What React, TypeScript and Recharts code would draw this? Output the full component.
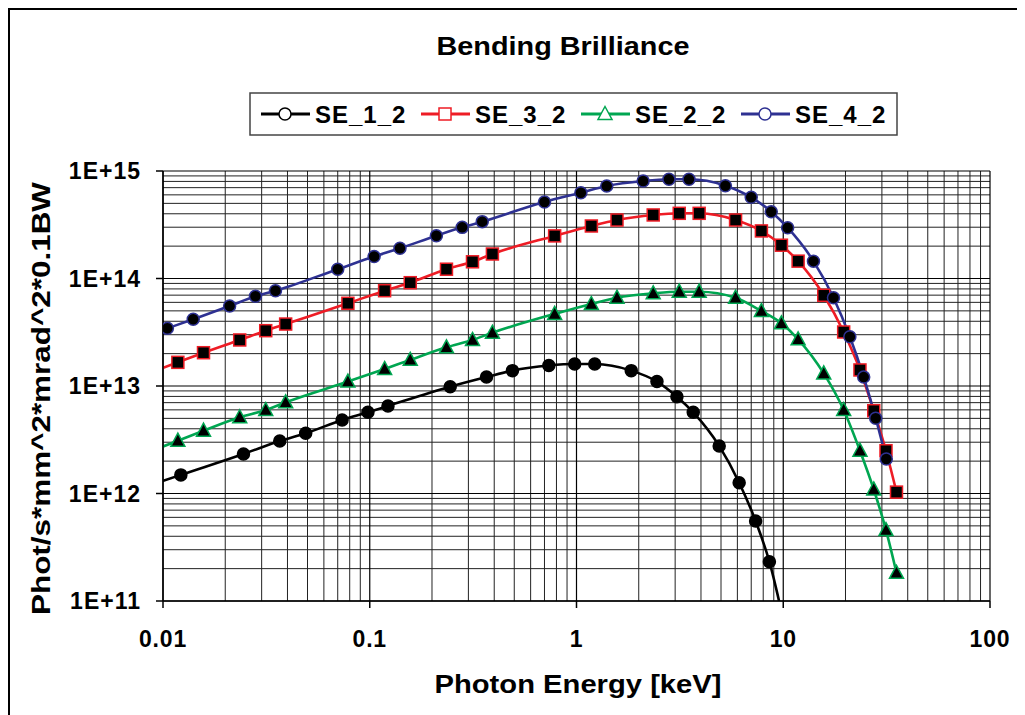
import React from 'react';
import { LineChart, Line, XAxis, YAxis, CartesianGrid } from 'recharts';

// ---- data ----
const E1 = [0.00612, 0.0122, 0.0245, 0.0367, 0.049, 0.0735, 0.098, 0.1225, 0.245, 0.367, 0.49, 0.735, 0.98, 1.225, 1.84, 2.45, 3.06, 3.67, 4.9, 6.12, 7.35, 8.57, 9.8];
const B1 = [9.5e11, 1.49e12, 2.33e12, 3.08e12, 3.63e12, 4.83e12, 5.69e12, 6.52e12, 9.85e12, 1.21e13, 1.39e13, 1.55e13, 1.6e13, 1.6e13, 1.39e13, 1.1e13, 7.95e12, 5.69e12, 2.77e12, 1.26e12, 5.55e11, 2.32e11, 8e10];

const E3 = [0.00784, 0.0118, 0.0157, 0.0235, 0.0314, 0.0392, 0.0784, 0.118, 0.157, 0.235, 0.314, 0.392, 0.784, 1.18, 1.57, 2.35, 3.14, 3.92, 5.88, 7.84, 9.8, 11.8, 15.7, 19.6, 23.5, 27.4, 31.4, 35.3];
const B3 = [1.24e13, 1.66e13, 2.04e13, 2.68e13, 3.27e13, 3.77e13, 5.88e13, 7.7e13, 9.14e13, 1.22e14, 1.43e14, 1.69e14, 2.49e14, 3.08e14, 3.5e14, 3.9e14, 4.04e14, 4.04e14, 3.5e14, 2.77e14, 2.04e14, 1.45e14, 6.98e13, 3.18e13, 1.41e13, 5.89e12, 2.5e12, 1.03e12];

const E2 = [0.00784, 0.0118, 0.0157, 0.0235, 0.0314, 0.0392, 0.0784, 0.118, 0.157, 0.235, 0.314, 0.392, 0.784, 1.18, 1.57, 2.35, 3.14, 3.92, 5.88, 7.84, 9.8, 11.8, 15.7, 19.6, 23.5, 27.4, 31.4, 35.3];
const B2 = [2.28e12, 3.1e12, 3.84e12, 5.12e12, 5.98e12, 7.05e12, 1.1e13, 1.44e13, 1.75e13, 2.29e13, 2.68e13, 3.13e13, 4.68e13, 5.79e13, 6.63e13, 7.28e13, 7.54e13, 7.54e13, 6.63e13, 4.98e13, 3.83e13, 2.72e13, 1.31e13, 5.98e12, 2.5e12, 1.09e12, 4.57e11, 1.83e11];

const E4 = [0.007, 0.0105, 0.014, 0.021, 0.028, 0.035, 0.07, 0.105, 0.14, 0.21, 0.28, 0.35, 0.7, 1.05, 1.4, 2.1, 2.8, 3.5, 5.25, 7, 8.75, 10.5, 14, 17.5, 21, 24.5, 28, 31.5];
const B4 = [2.63e13, 3.44e13, 4.17e13, 5.55e13, 6.83e13, 7.7e13, 1.22e14, 1.6e14, 1.91e14, 2.5e14, 2.99e14, 3.38e14, 5.15e14, 6.28e14, 7.25e14, 8.07e14, 8.37e14, 8.37e14, 7.3e14, 5.69e14, 4.18e14, 2.97e14, 1.45e14, 6.63e13, 2.87e13, 1.21e13, 5.01e12, 2.09e12];

const X_TICKS = [0.01, 0.1, 1, 10, 100];
const Y_TICKS = [1e11, 1e12, 1e13, 1e14, 1e15];
const MINOR_MULT = [2, 3, 4, 5, 6, 7, 8, 9];

const TITLE = 'Bending Brilliance';
const X_LABEL = 'Photon Energy [keV]';
const Y_LABEL = 'Phot/s*mm^2*mrad^2*0.1BW';

type Shape = 'circle' | 'square' | 'triangle';
const SERIES: { name: string; color: string; shape: Shape; E: number[]; B: number[] }[] = [
  { name: 'SE_1_2', color: '#000000', shape: 'circle', E: E1, B: B1 },
  { name: 'SE_3_2', color: '#EE1C25', shape: 'square', E: E3, B: B3 },
  { name: 'SE_2_2', color: '#00A651', shape: 'triangle', E: E2, B: B2 },
  { name: 'SE_4_2', color: '#2E3192', shape: 'circle', E: E4, B: B4 },
];

const minorX: number[] = [];
X_TICKS.slice(0, -1).forEach((d) => MINOR_MULT.forEach((k) => minorX.push(k * d)));
const minorY: number[] = [];
Y_TICKS.slice(0, -1).forEach((d) => MINOR_MULT.forEach((k) => minorY.push(k * d)));

const FONT = '"Liberation Sans", Arial, sans-serif';

function marker(shape: Shape, cx: number, cy: number, stroke: string, fill: string, key?: any) {
  if (shape === 'square') {
    return <rect key={key} x={cx - 6} y={cy - 6} width={12} height={12} fill={fill} stroke={stroke} strokeWidth={1.5} />;
  }
  if (shape === 'triangle') {
    return (
      <polygon
        key={key}
        points={`${cx},${cy - 7.5} ${cx + 7},${cy + 5.5} ${cx - 7},${cy + 5.5}`}
        fill={fill}
        stroke={stroke}
        strokeWidth={1.5}
      />
    );
  }
  return <circle key={key} cx={cx} cy={cy} r={6} fill={fill} stroke={stroke} strokeWidth={1.5} />;
}

const makeDot = (shape: Shape, color: string) => (p: any) => {
  const { cx, cy, index } = p;
  if (cx == null || cy == null || isNaN(cx) || isNaN(cy)) return <g key={`d${index}`} />;
  return marker(shape, cx, cy, color, '#000', `d${index}`);
};

const XTick = (p: any) => (
  <text x={p.x} y={p.y} dy="0.72em" textAnchor="middle" fontFamily={FONT} fontWeight={700} fontSize={23} fill="#000" letterSpacing={0.8}>
    {String(p.payload.value)}
  </text>
);

const YTick = (p: any) => (
  <text x={p.x} y={p.y} dy="0.36em" textAnchor="end" fontFamily={FONT} fontWeight={700} fontSize={23} fill="#000" letterSpacing={1}>
    {'1E+' + Math.round(Math.log10(p.payload.value))}
  </text>
);

export default function App() {
  const W = 1017;
  const H = 707;
  return (
    <div style={{ position: 'relative', width: W, height: H, fontFamily: FONT, background: '#fff' }}>
      <div
        style={{
          position: 'absolute',
          left: 0,
          top: 0,
          width: W,
          height: H,
          boxSizing: 'border-box',
          borderTop: '2px solid #000',
          borderLeft: '2px solid #000',
        }}
      />
      <div style={{ position: 'absolute', left: 0, top: 0 }}>
        <LineChart width={W} height={H} margin={{ top: 163, right: 35, bottom: 54, left: 95 }}>
          <CartesianGrid horizontalValues={minorY} verticalValues={minorX} stroke="#222" strokeWidth={1} />
          <CartesianGrid horizontalValues={Y_TICKS} verticalValues={X_TICKS} stroke="#000" strokeWidth={1.2} />
          <XAxis
            type="number"
            dataKey="x"
            scale="log"
            domain={[0.01, 100]}
            ticks={X_TICKS}
            allowDataOverflow
            height={60}
            tickSize={7}
            tickMargin={22}
            axisLine={{ stroke: '#000', strokeWidth: 1.5 }}
            tickLine={{ stroke: '#000', strokeWidth: 1.5 }}
            tick={<XTick />}
            interval={0}
          />
          <YAxis
            type="number"
            dataKey="y"
            scale="log"
            domain={[1e11, 1e15]}
            ticks={Y_TICKS}
            allowDataOverflow
            width={60}
            tickSize={7}
            tickMargin={15}
            axisLine={{ stroke: '#000', strokeWidth: 1.5 }}
            tickLine={{ stroke: '#000', strokeWidth: 1.5 }}
            tick={<YTick />}
            interval={0}
          />
          {SERIES.map((s) => (
            <Line
              key={s.name}
              name={s.name}
              data={s.E.map((e, i) => ({ x: e, y: s.B[i] }))}
              dataKey="y"
              type="monotone"
              stroke={s.color}
              strokeWidth={2.6}
              dot={makeDot(s.shape, s.color)}
              activeDot={false}
              isAnimationActive={false}
            />
          ))}
        </LineChart>
      </div>
      <svg width={W} height={H} style={{ position: 'absolute', left: 0, top: 0, pointerEvents: 'none' }}>
        <text x={555} y={47} textAnchor="middle" fontFamily={FONT} fontWeight={700} fontSize={26} textLength={253} lengthAdjust="spacingAndGlyphs" fill="#000">
          {TITLE}
        </text>
        <text x={570} y={685} textAnchor="middle" fontFamily={FONT} fontWeight={700} fontSize={26} textLength={287} lengthAdjust="spacingAndGlyphs" fill="#000">
          {X_LABEL}
        </text>
        <text
          transform="translate(42, 390.5) rotate(-90)"
          x={0}
          y={0}
          textAnchor="middle"
          fontFamily={FONT}
          fontWeight={700}
          fontSize={26}
          textLength={433}
          lengthAdjust="spacingAndGlyphs"
          fill="#000"
        >
          {Y_LABEL}
        </text>
        <g transform="translate(242, 85)">
          <rect x={0} y={0} width={647} height={42} fill="#fff" stroke="#444" strokeWidth={1.5} />
          {SERIES.map((s, i) => {
            const ox = 11 + i * 160;
            return (
              <g key={s.name}>
                <line x1={ox} y1={21} x2={ox + 49} y2={21} stroke={s.color} strokeWidth={2.8} />
                {marker(s.shape, ox + 24, 21, s.color, '#fff')}
                <text x={ox + 54} y={21} dy="0.36em" fontFamily={FONT} fontWeight={700} fontSize={24} fill="#000" letterSpacing={1}>
                  {s.name}
                </text>
              </g>
            );
          })}
        </g>
      </svg>
    </div>
  );
}
